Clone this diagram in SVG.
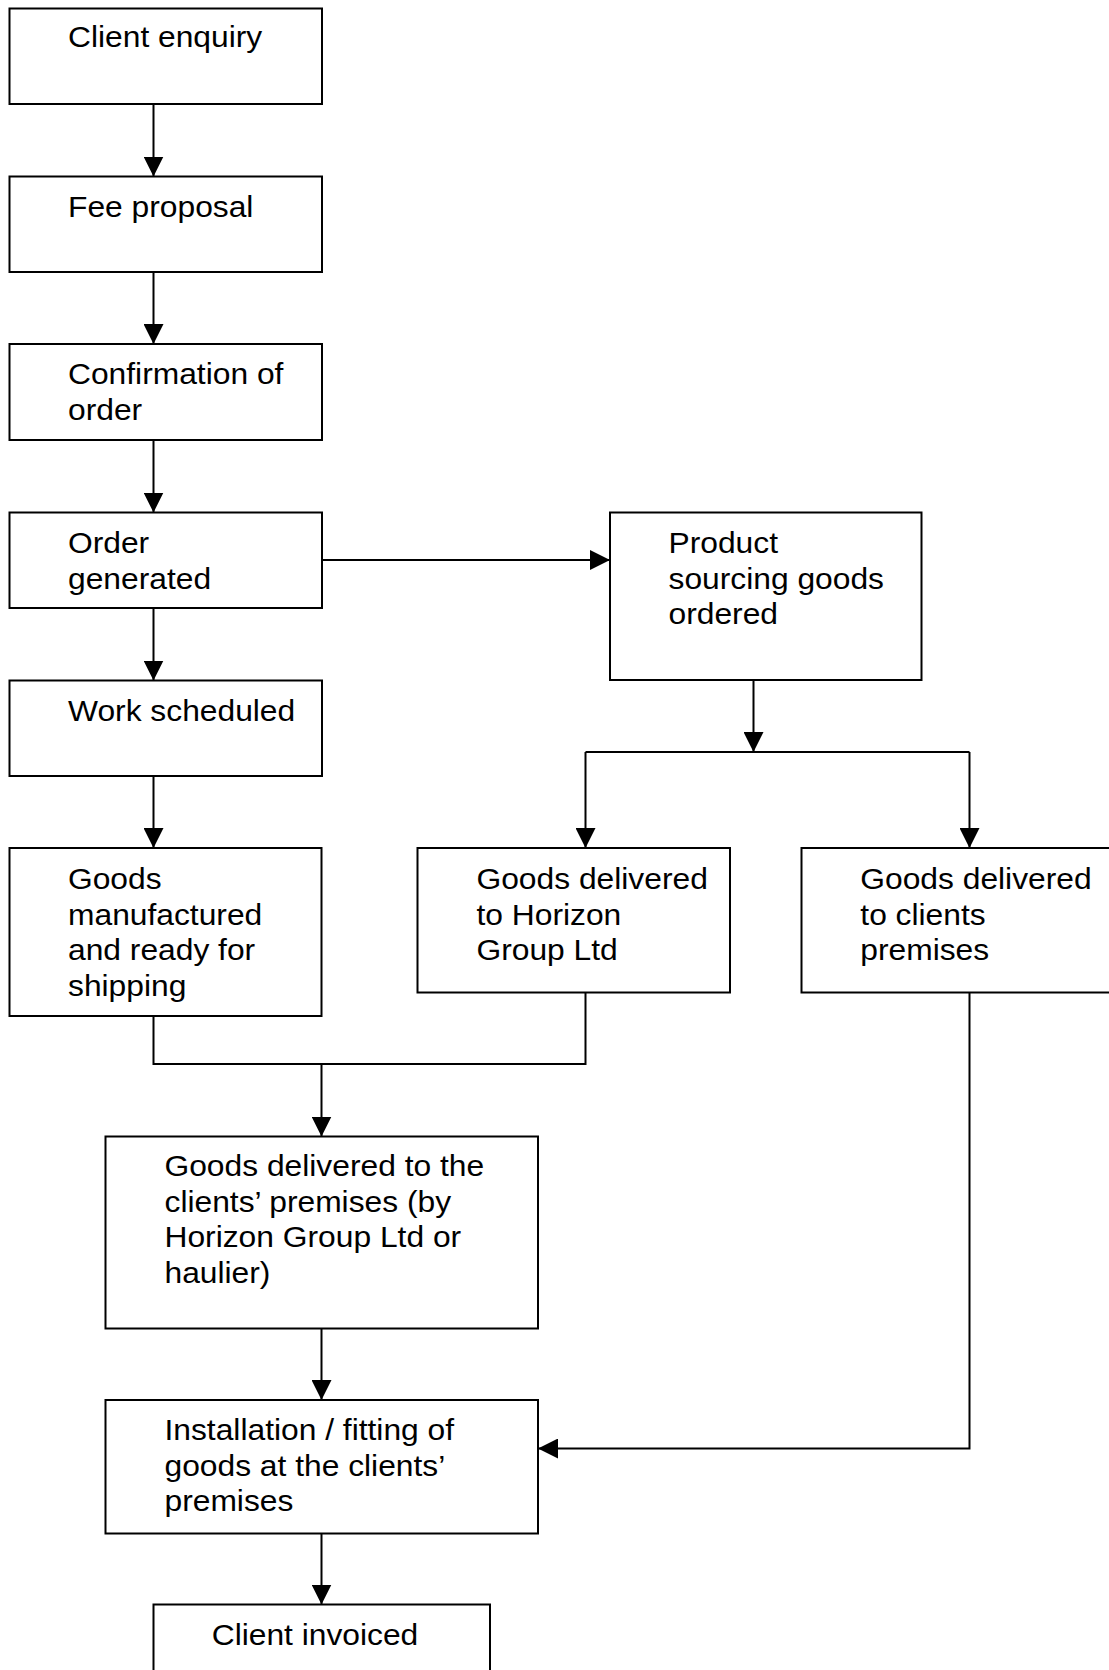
<svg xmlns="http://www.w3.org/2000/svg" width="1109" height="1670" viewBox="0 0 1109 1670">
<style>
.box{fill:#fff;stroke:#000;stroke-width:2}
.ln{fill:none;stroke:#000;stroke-width:2}
.t{font-family:"Liberation Sans",Arial,sans-serif;font-size:29px;fill:#000}
</style>
<defs>
<marker id="ah" viewBox="0 0 20 20" refX="20" refY="10" markerWidth="20" markerHeight="20" markerUnits="userSpaceOnUse" orient="auto">
<path d="M0,0 L20,10 L0,20 Z" fill="#000"/>
</marker>
</defs>
<rect width="1109" height="1670" fill="#fff"/>
<g id="connectors">
<line class="ln" x1="153.5" y1="104" x2="153.5" y2="176.5" marker-end="url(#ah)"/>
<line class="ln" x1="153.5" y1="272" x2="153.5" y2="344" marker-end="url(#ah)"/>
<line class="ln" x1="153.5" y1="440" x2="153.5" y2="512.5" marker-end="url(#ah)"/>
<line class="ln" x1="153.5" y1="608" x2="153.5" y2="680.5" marker-end="url(#ah)"/>
<line class="ln" x1="153.5" y1="776" x2="153.5" y2="848" marker-end="url(#ah)"/>
<line class="ln" x1="322" y1="560" x2="610" y2="560" marker-end="url(#ah)"/>
<line class="ln" x1="753.5" y1="680" x2="753.5" y2="752" marker-end="url(#ah)"/>
<polyline class="ln" points="585.5,752 969.5,752"/>
<line class="ln" x1="585.5" y1="752" x2="585.5" y2="848" marker-end="url(#ah)"/>
<line class="ln" x1="969.5" y1="752" x2="969.5" y2="848" marker-end="url(#ah)"/>
<polyline class="ln" points="153.5,1016 153.5,1064 585.5,1064 585.5,992.5"/>
<line class="ln" x1="321.5" y1="1064" x2="321.5" y2="1136.5" marker-end="url(#ah)"/>
<line class="ln" x1="321.5" y1="1328.5" x2="321.5" y2="1400" marker-end="url(#ah)"/>
<polyline class="ln" points="969.5,992.5 969.5,1448.5 538,1448.5" marker-end="url(#ah)"/>
<line class="ln" x1="321.5" y1="1533.5" x2="321.5" y2="1604.5" marker-end="url(#ah)"/>
</g>
<g id="n1"><rect class="box" x="9.5" y="8.5" width="312.5" height="95.5"/>
<text class="t" transform="translate(68 47) scale(1.096 1)"><tspan x="0" y="0">Client enquiry</tspan></text></g>
<g id="n2"><rect class="box" x="9.5" y="176.5" width="312.5" height="95.5"/>
<text class="t" transform="translate(68 216.5) scale(1.096 1)"><tspan x="0" y="0">Fee proposal</tspan></text></g>
<g id="n3"><rect class="box" x="9.5" y="344" width="312.5" height="96"/>
<text class="t" transform="translate(68 384.3) scale(1.096 1)"><tspan x="0" y="0">Confirmation of</tspan><tspan x="0" y="35.7">order</tspan></text></g>
<g id="n4"><rect class="box" x="9.5" y="512.5" width="312.5" height="95.5"/>
<text class="t" transform="translate(68 553) scale(1.096 1)"><tspan x="0" y="0">Order</tspan><tspan x="0" y="35.7">generated</tspan></text></g>
<g id="n5"><rect class="box" x="9.5" y="680.5" width="312.5" height="95.5"/>
<text class="t" transform="translate(68 721) scale(1.096 1)"><tspan x="0" y="0">Work scheduled</tspan></text></g>
<g id="n6"><rect class="box" x="9.5" y="848" width="312" height="168"/>
<text class="t" transform="translate(68 889) scale(1.096 1)"><tspan x="0" y="0">Goods</tspan><tspan x="0" y="35.7">manufactured</tspan><tspan x="0" y="71.4">and ready for</tspan><tspan x="0" y="107.1">shipping</tspan></text></g>
<g id="n7"><rect class="box" x="610" y="512.5" width="311.5" height="167.5"/>
<text class="t" transform="translate(668.5 553) scale(1.096 1)"><tspan x="0" y="0">Product</tspan><tspan x="0" y="35.7">sourcing goods</tspan><tspan x="0" y="71.4">ordered</tspan></text></g>
<g id="n8"><rect class="box" x="417.5" y="848" width="312.5" height="144.5"/>
<text class="t" transform="translate(476.5 889) scale(1.096 1)"><tspan x="0" y="0">Goods delivered</tspan><tspan x="0" y="35.7">to Horizon</tspan><tspan x="0" y="71.4">Group Ltd</tspan></text></g>
<g id="n9"><rect class="box" x="801.5" y="848" width="320" height="144.5"/>
<text class="t" transform="translate(860.3 889) scale(1.096 1)"><tspan x="0" y="0">Goods delivered</tspan><tspan x="0" y="35.7">to clients</tspan><tspan x="0" y="71.4">premises</tspan></text></g>
<g id="n10"><rect class="box" x="105.5" y="1136.5" width="432.5" height="192"/>
<text class="t" transform="translate(164.5 1176) scale(1.096 1)"><tspan x="0" y="0">Goods delivered to the</tspan><tspan x="0" y="35.7">clients’ premises (by</tspan><tspan x="0" y="71.4">Horizon Group Ltd or</tspan><tspan x="0" y="107.1">haulier)</tspan></text></g>
<g id="n11"><rect class="box" x="105.5" y="1400" width="432.5" height="133.5"/>
<text class="t" transform="translate(164.5 1440) scale(1.096 1)"><tspan x="0" y="0">Installation / fitting of</tspan><tspan x="0" y="35.7">goods at the clients’</tspan><tspan x="0" y="71.4">premises</tspan></text></g>
<g id="n12"><rect class="box" x="153.5" y="1604.5" width="336.5" height="80"/>
<text class="t" transform="translate(211.7 1645) scale(1.096 1)"><tspan x="0" y="0">Client invoiced</tspan></text></g>
</svg>
